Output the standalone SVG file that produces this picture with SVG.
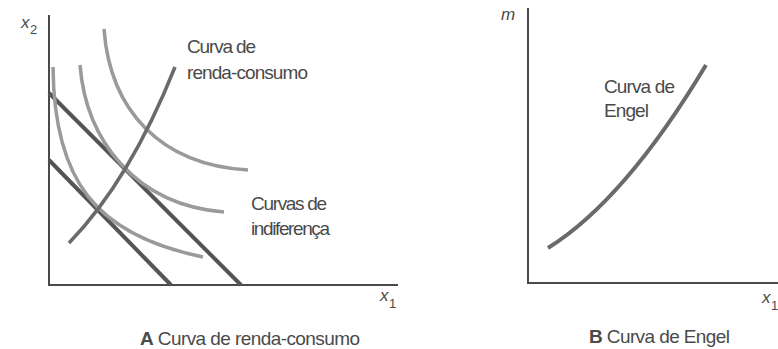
<svg xmlns="http://www.w3.org/2000/svg" width="778" height="349" viewBox="0 0 778 349">
<style>
.axis{stroke:#4a4a4a;stroke-width:2;fill:none}
.budget{stroke:#555;stroke-width:4;fill:none;stroke-linecap:butt}
.ic{stroke:#9a9a9a;stroke-width:3.5;fill:none}
.path{stroke:#6a6a6a;stroke-width:3.5;fill:none}
text{font-family:"Liberation Sans",Arial,sans-serif;fill:#4a4a4a;font-size:19px}
.var{font-style:italic;font-size:17px}
.sub{font-size:13px}
</style>
<rect width="778" height="349" fill="#fff"/>
<g id="panelA">
  <g id="axesA">
    <path class="axis" d="M49,15 V285 H398"/>
    <text class="var" x="21" y="28">x</text><text class="sub" x="30" y="34">2</text>
    <text class="var" x="380" y="301">x</text><text class="sub" x="389" y="308">1</text>
  </g>
  <g id="connectors">
    <path id="budget1" class="budget" d="M49,160 L171,285"/>
    <path id="budget2" class="budget" d="M49,93 L241,285"/>
    <path id="ic1" class="ic" d="M53,67 C54,180 95,235 203,257"/>
    <path id="ic2" class="ic" d="M80,65 C86,140 135,205 224,212"/>
    <path id="ic3" class="ic" d="M104,29 C110,110 160,165 248,170"/>
    <path id="icc" class="path" d="M69,243 Q130,180 175,67"/>
  </g>
  <g id="labelICC">
    <text x="187" y="53" textLength="69">Curva de</text>
    <text x="187" y="79" textLength="121">renda-consumo</text>
  </g>
  <g id="labelIC">
    <text x="251" y="210" textLength="76">Curvas de</text>
    <text x="251" y="235" textLength="79">indiferença</text>
  </g>
  <text id="captionA" x="140" y="345" textLength="220"><tspan font-weight="bold">A</tspan>  Curva de renda-consumo</text>
</g>
<g id="panelB">
  <g id="axesB">
    <path class="axis" d="M528,8 V283 H778"/>
    <text class="var" x="501" y="20">m</text>
    <text class="var" x="762" y="303">x</text><text class="sub" x="771" y="310">1</text>
  </g>
  <path id="engel" class="path" d="M548,248 Q625,200 706,65" style="stroke-width:4"/>
  <g id="labelEngel">
    <text x="604" y="93" textLength="71">Curva de</text>
    <text x="604" y="117" textLength="45">Engel</text>
  </g>
  <text id="captionB" x="589" y="343" textLength="141"><tspan font-weight="bold">B</tspan>  Curva de Engel</text>
</g>
</svg>
